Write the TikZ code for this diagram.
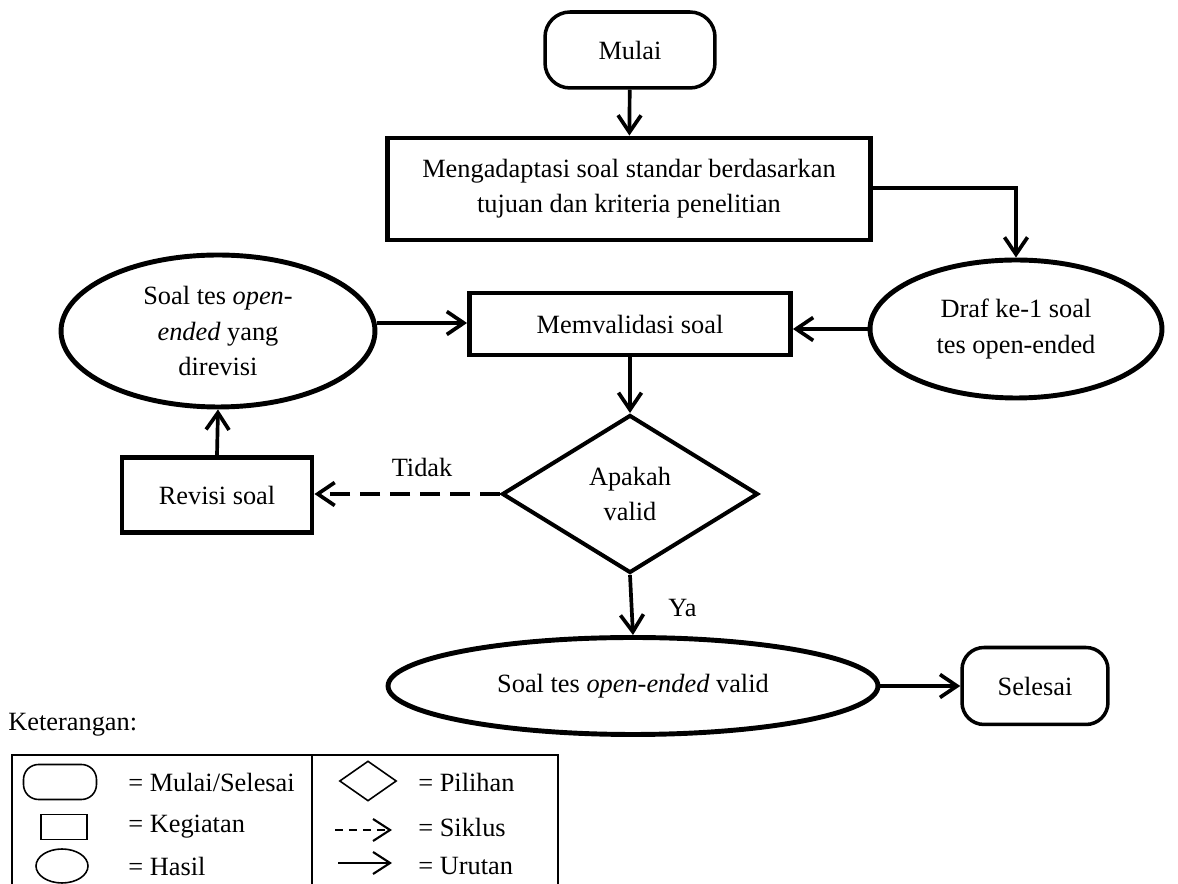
\documentclass[tikz,border=0pt]{standalone}
\usepackage{fontspec}
\setmainfont{Liberation Serif}
\usetikzlibrary{arrows.meta,shapes.geometric}

\tikzset{
  txt/.style={font=\fontsize{15}{20}\selectfont, inner sep=0pt, align=center},
  terminal/.style={txt, draw, line width=2pt, rounded corners=0.5cm},
  activity/.style={txt, draw, line width=2.8pt},
  result/.style={txt, draw, ellipse, line width=2.8pt},
  choice/.style={txt, draw, diamond, line width=2.3pt},
  flow/.style={line width=2.1pt, -{Straight Barb[length=0.34cm,width=0.46cm]}},
  cycle/.style={flow, dash pattern=on 0.4cm off 0.2cm},
  keyline/.style={line width=0.9pt},
  keyflow/.style={line width=1.2pt, -{Straight Barb[length=0.34cm,width=0.44cm]}},
}

\begin{document}
\begin{tikzpicture}[x=0.02cm, y=-0.02cm]
\useasboundingbox (0,0) rectangle (1178,884);

% flowchart nodes
\node[terminal, minimum width=3.4cm, minimum height=1.52cm] (start) at (630,50) {Mulai};
\node[activity, minimum width=9.68cm, minimum height=2.04cm] (adapt) at (629,189)
  {Mengadaptasi soal standar berdasarkan\\tujuan dan kriteria penelitian};
\node[result, minimum width=5.84cm, minimum height=2.76cm] (draft) at (1016,329)
  {Draf ke-1 soal\\tes open-ended};
\node[activity, minimum width=6.42cm, minimum height=1.24cm] (validate) at (630,324) {Memvalidasi soal};
\node[result, minimum width=6.28cm, minimum height=3.04cm] (revised) at (218,331) {};
\node[txt] (revisedtext) at (revised.center) {Soal tes \textit{open-}\\\textit{ended} yang\\direvisi};
\node[choice, minimum width=5.12cm, minimum height=3.16cm] (valid) at (630,494) {Apakah\\valid};
\node[activity, minimum width=3.8cm, minimum height=1.5cm] (revise) at (217,495) {Revisi soal};
\node[result, minimum width=9.8cm, minimum height=1.94cm] (final) at (633,686)
  {Soal tes \textit{open-ended} valid};
\node[terminal, rounded corners=0.44cm, minimum width=2.92cm, minimum height=1.54cm] (stop) at (1035,686) {Selesai};

% connectors
\draw[flow] (start) -- (adapt);
\draw[flow] (adapt.east |- 0,188) -| (draft.north);
\draw[flow] (draft.west) -- (validate.east |- draft.west);
\draw[flow] (revised.east |- 0,323) -- (validate.west |- 0,323);
\draw[flow] (validate) -- (valid.north);
\draw[cycle] (valid.west) -- (revise.east |- valid.west)
  node[txt, pos=0.42, above=0.3cm] (no) {Tidak};
\draw[flow] (revise.north) -- (revised.south);
\draw[flow] (valid.south) -- (final.north)
  node[txt, pos=0.55, right=0.7cm] (yes) {Ya};
\draw[flow] (final.east) -- (stop.west);

% key
\node[txt, anchor=west] (keytitle) at (8,725) {Keterangan:};
\draw[line width=1.1pt] (12,900) |- (558,755) -- (558,900);
\draw[line width=1.1pt] (312,755) -- (312,900);

\node[draw, keyline, rounded corners=0.3cm, minimum width=1.46cm, minimum height=0.7cm] (keyterm) at (60,782) {};
\node[draw, keyline, minimum width=0.92cm, minimum height=0.5cm] (keyact) at (64,827) {};
\node[draw, keyline, ellipse, minimum width=1.04cm, minimum height=0.68cm] (keyres) at (62,866) {};
\node[txt, anchor=west] (lterm) at (128,782) {= Mulai/Selesai};
\node[txt, anchor=west] (lact) at (128,827) {= Kegiatan};
\node[txt, anchor=west] (lres) at (128,866) {= Hasil};

\node[draw, keyline, diamond, minimum width=1.14cm, minimum height=0.8cm, inner sep=0pt] (keychoice) at (368,781) {};
\coordinate (cyca) at (335,830);
\coordinate (cycb) at (392,830);
\coordinate (flwa) at (338,863);
\coordinate (flwb) at (392,863);
\draw[keyflow, dash pattern=on 0.16cm off 0.12cm] (cyca) -- (cycb);
\draw[keyflow] (flwa) -- (flwb);
\node[txt, anchor=west] (lchoice) at (418,782) {= Pilihan};
\node[txt, anchor=west] (lcyc) at (418,827) {= Siklus};
\node[txt, anchor=west] (lflw) at (418,866) {= Urutan};
\end{tikzpicture}
\end{document}
